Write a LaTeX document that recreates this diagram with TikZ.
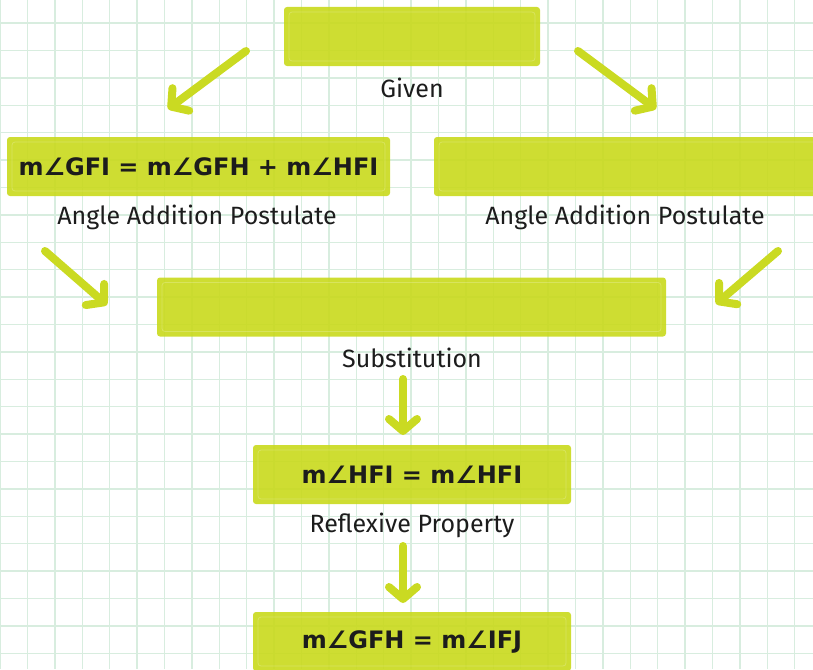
\documentclass[tikz,border=0pt]{standalone}
\usepackage{fontspec}
\setmainfont{Fira Sans}
\newfontfamily\mathfont{DejaVu Sans}
\usetikzlibrary{arrows.meta}
\definecolor{boxgreen}{HTML}{CADA22}
\definecolor{gridgreen}{HTML}{D8EDDF}
\definecolor{inkblack}{HTML}{1C1C1C}

\begin{document}
\begin{tikzpicture}[
    x=1pt, y=-1pt,
    stepbox/.style={rectangle, fill=boxgreen, fill opacity=0.93, text opacity=1, rounded corners=3pt,
        minimum height=59pt, inner sep=0pt, text=inkblack, font=\mathfont\bfseries\fontsize{24}{28}\selectfont,
        path picture={\draw[white, opacity=0.22, line width=0.8pt]
            ([shift={(5pt,-5pt)}]path picture bounding box.north west) rectangle
            ([shift={(-5pt,5pt)}]path picture bounding box.south east);}},
    reason/.style={text=inkblack, font=\fontsize{25}{29}\selectfont},
    flow/.style={draw=boxgreen, line width=8pt, line cap=round,
        -{Straight Barb[length=12pt, width=28pt, line cap=round, line join=round]}},
    gridline/.style={draw=gridgreen, line width=1.4pt}
]
    \useasboundingbox (0,0) rectangle (813,669);

    % Paper grid
    \foreach \k in {0,...,29} \draw[gridline] (\k*27.4, 0) -- (\k*27.4, 669);
    \foreach \k in {0,...,23} \draw[gridline] (0, 23+\k*27.4) -- (813, 23+\k*27.4);

    % Statement boxes
    \node[stepbox, minimum width=256pt] (given) at (412, 36.5) {};
    \node[stepbox, minimum width=383pt] (sumleft) at (198.5, 166.5) {m∠GFI = m∠GFH + m∠HFI};
    \node[stepbox, minimum width=390pt] (sumright) at (629, 166.5) {};
    \node[stepbox, minimum width=509pt] (subst) at (411.5, 307) {};
    \node[stepbox, minimum width=318pt] (reflex) at (412, 474.5) {m∠HFI = m∠HFI};
    \node[stepbox, minimum width=318pt] (result) at (412, 641.5) {m∠GFH = m∠IFJ};

    % Reasons
    \node[reason] (givenlbl) at (412, 88) {Given};
    \node[reason] (addleft) at (197, 217) {Angle Addition Postulate};
    \node[reason] (addright) at (625, 217) {Angle Addition Postulate};
    \node[reason] (substlbl) at (412, 358) {Substitution};
    \node[reason] (reflexlbl) at (412, 525) {Reflexive Property};

    % Arrow ends
    \coordinate (g1) at (246, 51);   \coordinate (g1e) at (168, 109);
    \coordinate (g2) at (578, 51);   \coordinate (g2e) at (656, 109);
    \coordinate (l1) at (45, 251);   \coordinate (l1e) at (107, 305);
    \coordinate (r1) at (778, 251);  \coordinate (r1e) at (716, 304);
    \coordinate (s1) at (403, 379);  \coordinate (s1e) at (403, 435);
    \coordinate (p1) at (403, 546);  \coordinate (p1e) at (403, 603);

    % Arrows
    \draw[flow] (g1) -- (g1e);
    \draw[flow] (g2) -- (g2e);
    \draw[flow] (l1) -- (l1e);
    \draw[flow] (r1) -- (r1e);
    \draw[flow] (s1) -- (s1e);
    \draw[flow] (p1) -- (p1e);
\end{tikzpicture}
\end{document}
